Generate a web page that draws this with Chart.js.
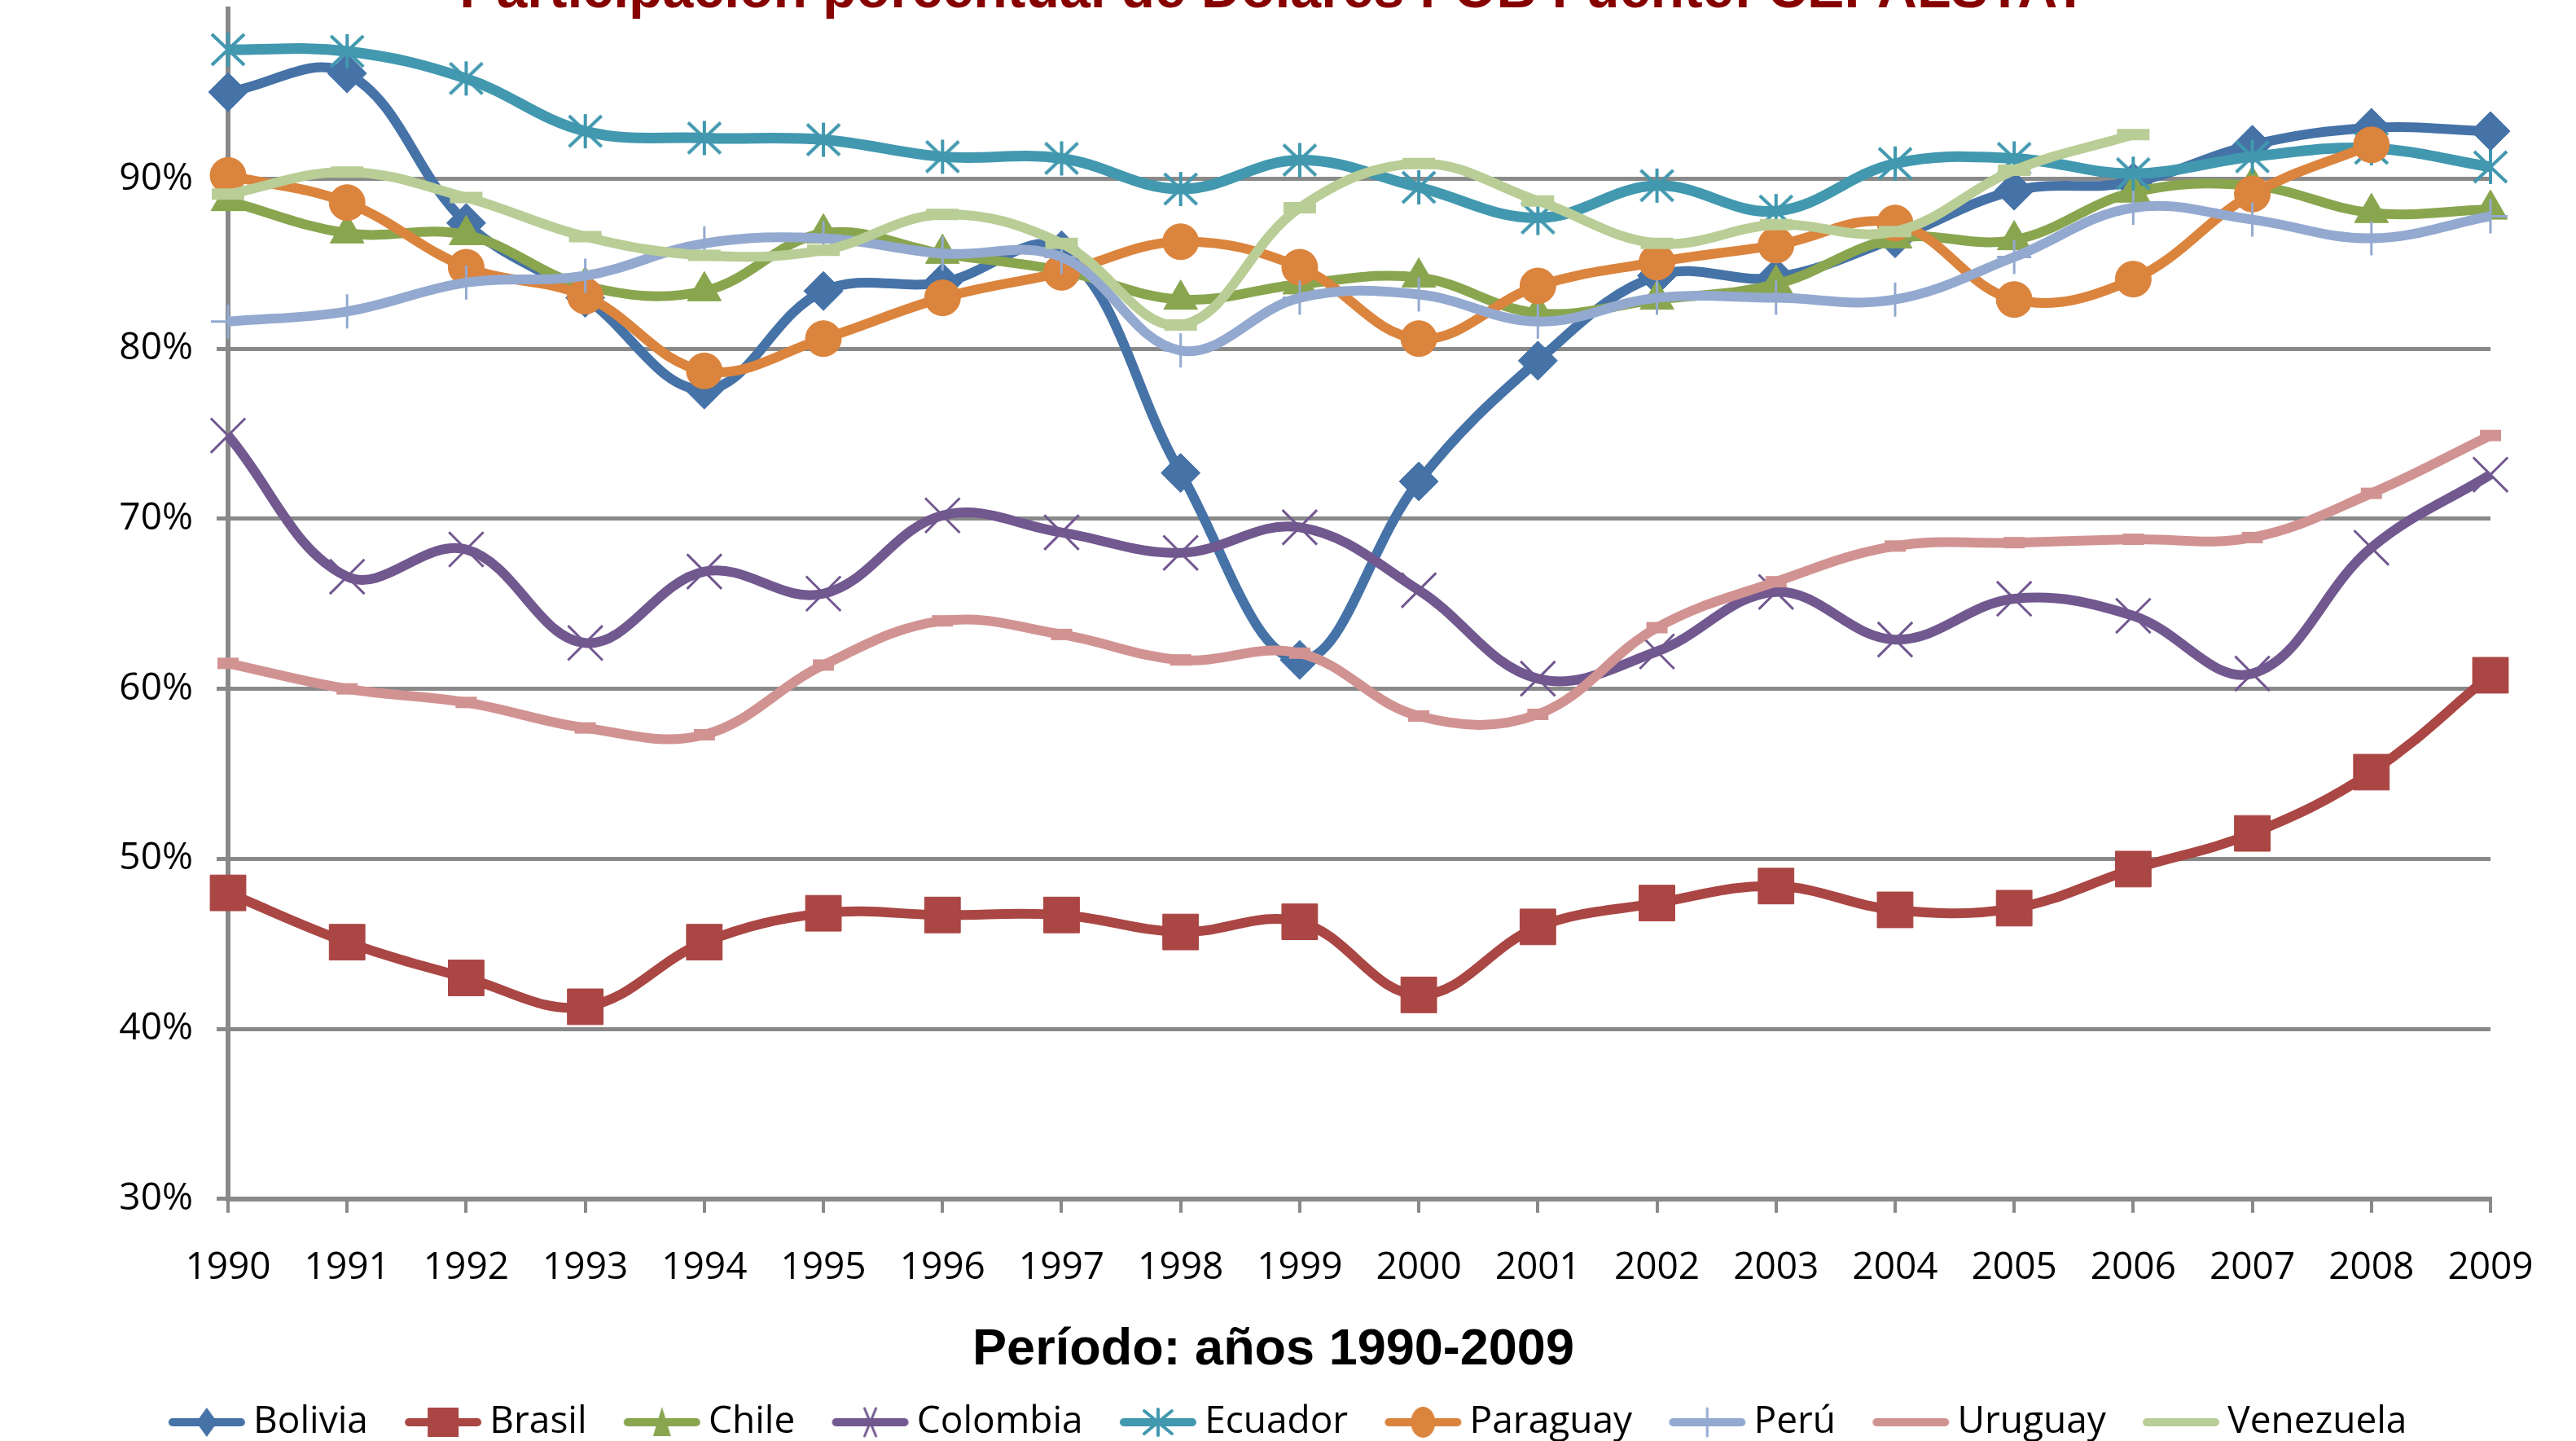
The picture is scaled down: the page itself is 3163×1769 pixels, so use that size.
<!DOCTYPE html>
<html><head><meta charset="utf-8">
<script src="https://cdn.jsdelivr.net/npm/chart.js@4.4.1/dist/chart.umd.min.js"></script>
<style>
html,body{margin:0;padding:0;background:#fff;overflow:hidden;width:3163px;height:1769px}
#wrap{position:absolute;left:0;top:-53px;width:3163px;height:1832px}
</style></head>
<body><div id="wrap"><canvas id="c" width="3163" height="1832"></canvas></div>
<script>
const chartTitle = 'Participación porcentual de Dólares FOB Fuente: CEPALSTAT';
const xTitle = 'Período: años 1990-2009';
const years = ['1990','1991','1992','1993','1994','1995','1996','1997','1998','1999','2000','2001','2002','2003','2004','2005','2006','2007','2008','2009'];
const yTickValues = [30,40,50,60,70,80,90];
const seriesNames = ['Bolivia','Brasil','Chile','Colombia','Ecuador','Paraguay','Perú','Uruguay','Venezuela'];
const bolivia   = [95.1,96.2,87.4,83.0,77.6,83.4,83.9,85.8,72.7,61.7,72.2,79.3,84.3,84.2,86.5,89.3,89.8,92.0,93.0,92.8];
const brasil    = [48.0,45.1,43.0,41.3,45.1,46.8,46.7,46.7,45.7,46.3,42.0,46.0,47.4,48.4,47.0,47.1,49.4,51.5,55.1,60.8];
const chile     = [88.7,86.8,86.7,83.7,83.4,86.8,85.6,84.6,82.9,83.8,84.2,82.1,82.9,83.8,86.5,86.4,89.2,89.6,88.0,88.2];
const colombia  = [74.9,66.6,68.2,62.7,66.9,65.6,70.2,69.2,68.0,69.5,65.8,60.6,62.2,65.7,62.9,65.3,64.3,60.9,68.3,72.6];
const ecuador   = [97.6,97.5,95.9,92.8,92.4,92.3,91.3,91.2,89.4,91.1,89.5,87.7,89.6,88.1,90.9,91.2,90.3,91.3,91.8,90.7];
const paraguay  = [90.2,88.6,84.8,83.1,78.7,80.6,83.0,84.5,86.3,84.8,80.6,83.7,85.1,86.1,87.4,82.9,84.1,89.1,92.0,null];
const peru      = [81.6,82.2,83.9,84.3,86.2,86.5,85.6,85.4,79.9,83.0,83.2,81.6,83.0,83.0,82.9,85.4,88.3,87.6,86.5,87.8];
const uruguay   = [61.5,60.0,59.2,57.7,57.3,61.4,64.0,63.2,61.7,62.1,58.4,58.5,63.6,66.3,68.4,68.6,68.8,68.9,71.5,74.9];
const venezuela = [89.1,90.4,88.9,86.6,85.5,85.8,87.9,86.2,81.4,88.3,90.9,88.7,86.2,87.3,86.9,90.5,92.6,null,null,null];
const seriesData = [bolivia,brasil,chile,colombia,ecuador,paraguay,peru,uruguay,venezuela];
const colors = ['#4572A7','#AA4643','#89A54E','#71588F','#4198AF','#DB843D','#93A9CF','#D19392','#B9CD96'];
const markerKinds = ['diamond','square','triangle','x','star','circle','plus','none','none'];

function drawMarker(ctx, kind, cx, cy, color) {
  ctx.save();
  ctx.fillStyle = color; ctx.strokeStyle = color;
  ctx.beginPath();
  if (kind === 'diamond') {
    ctx.moveTo(cx, cy - 18); ctx.lineTo(cx + 13, cy); ctx.lineTo(cx, cy + 18); ctx.lineTo(cx - 13, cy); ctx.closePath(); ctx.fill();
  } else if (kind === 'square') {
    ctx.rect(cx - 19, cy - 18, 38, 36); ctx.fill();
  } else if (kind === 'triangle') {
    ctx.moveTo(cx, cy - 19); ctx.lineTo(cx + 11, cy + 17); ctx.lineTo(cx - 11, cy + 17); ctx.closePath(); ctx.fill();
  } else if (kind === 'x') {
    ctx.lineWidth = 3;
    ctx.moveTo(cx - 7, cy - 17); ctx.lineTo(cx + 7, cy + 17);
    ctx.moveTo(cx + 7, cy - 17); ctx.lineTo(cx - 7, cy + 17); ctx.stroke();
  } else if (kind === 'star') {
    ctx.lineWidth = 4;
    ctx.moveTo(cx, cy - 16); ctx.lineTo(cx, cy + 16);
    ctx.moveTo(cx - 17, cy - 14); ctx.lineTo(cx + 17, cy + 14);
    ctx.moveTo(cx + 17, cy - 14); ctx.lineTo(cx - 17, cy + 14); ctx.stroke();
  } else if (kind === 'circle') {
    ctx.ellipse(cx, cy, 15, 19, 0, 0, Math.PI * 2); ctx.fill();
  } else if (kind === 'plus') {
    ctx.lineWidth = 3;
    ctx.moveTo(cx, cy - 17); ctx.lineTo(cx, cy + 17); ctx.stroke();
  }
  ctx.restore();
}

// legend icons: line sample with marker (drawn in the right part of the box)
const legendIcons = colors.map((c, i) => {
  const cv = document.createElement('canvas');
  cv.width = 144; cv.height = 50;
  const g = cv.getContext('2d');
  g.strokeStyle = c; g.lineWidth = 10; g.lineCap = 'round';
  g.beginPath(); g.moveTo(54, 25); g.lineTo(138, 25); g.stroke();
  drawMarker(g, markerKinds[i], 96, 25, c);
  return cv;
});

// Ecuador asterisk marker for the data points
const ecuadorMarker = (() => {
  const cv = document.createElement('canvas');
  cv.width = 46; cv.height = 46;
  const g = cv.getContext('2d');
  g.strokeStyle = colors[4]; g.lineWidth = 4;
  g.beginPath();
  g.moveTo(23, 2); g.lineTo(23, 44);
  g.moveTo(3, 4); g.lineTo(43, 42);
  g.moveTo(43, 4); g.lineTo(3, 42);
  g.stroke();
  return cv;
})();

const pointStyles = ['rectRot','rect','triangle','crossRot',ecuadorMarker,'circle','cross','line','line'];
const pointRadii  = [24, 31, 24, 30, 22, 22, 21, 13, 20];
const pointBorders= [1, 1, 1, 3, 1, 1, 3, 14, 14];

const datasets = seriesNames.map((name, i) => ({
  label: name,
  data: seriesData[i],
  borderColor: colors[i],
  backgroundColor: colors[i],
  pointBackgroundColor: colors[i],
  pointBorderColor: colors[i],
  borderWidth: i === 4 ? 13 : 12,
  tension: 0.38,
  pointStyle: pointStyles[i],
  pointRadius: pointRadii[i],
  pointHoverRadius: pointRadii[i],
  pointBorderWidth: pointBorders[i],
  borderJoinStyle: 'round',
  borderCapStyle: 'butt',
  clip: false,
  order: seriesNames.length - i
}));

const gray = '#898989';

new Chart(document.getElementById('c'), {
  type: 'line',
  data: { labels: years, datasets: datasets },
  options: {
    responsive: false,
    animation: false,
    devicePixelRatio: 1,
    layout: { padding: { left: 0, top: 0, bottom: 0, right: 36 } },
    plugins: {
      title: {
        display: true, text: chartTitle, color: '#870000', position: 'top',
        font: { family: 'Liberation Sans, Arial, sans-serif', size: 68, weight: 'bold', lineHeight: 0.6 },
        padding: { top: 23, bottom: 0 }
      },
      subtitle: {
        display: true, text: xTitle, color: '#000', position: 'bottom', weight: 500,
        font: { family: 'Liberation Sans, Arial, sans-serif', size: 63, weight: 'bold', lineHeight: 1.0 },
        padding: { top: 2, bottom: 24 }
      },
      legend: {
        position: 'bottom',
        labels: {
          usePointStyle: true,
          pointStyleWidth: 116.5,
          padding: 10,
          color: '#000',
          font: { family: 'Open Sans, sans-serif', size: 46 },
          generateLabels: (chart) => chart.data.datasets.map((ds, i) => ({
            text: ds.label, pointStyle: legendIcons[i], fillStyle: ds.borderColor,
            strokeStyle: ds.borderColor, lineWidth: 0, hidden: !chart.isDatasetVisible(i),
            datasetIndex: i, fontColor: '#000'
          }))
        }
      },
      tooltip: { enabled: false }
    },
    scales: {
      x: {
        type: 'category',
        offset: false,
        grid: { display: true, drawOnChartArea: false, drawTicks: true, tickLength: 17, color: gray, lineWidth: 4 },
        border: { display: true, color: gray, width: 6 },
        ticks: { color: '#000', padding: 40, maxRotation: 0, autoSkip: false, font: { family: 'Open Sans, sans-serif', size: 46 } }
      },
      y: {
        type: 'linear', min: 30, max: 100,
        afterBuildTicks: (axis) => { axis.ticks = yTickValues.map(v => ({ value: v })); },
        afterFit: (s) => { s.width = 280; },
        grid: { display: true, drawTicks: true, tickLength: 14, color: gray, lineWidth: 5 },
        border: { display: true, color: gray, width: 6 },
        ticks: { color: '#000', padding: 29, font: { family: 'Open Sans, sans-serif', size: 46 }, callback: (v) => v + '%' }
      },
      yRight: {
        type: 'linear', position: 'right', display: true,
        grid: { display: false, drawTicks: false }, border: { display: false },
        ticks: { display: false },
        afterFit: (s) => { s.width = 69; }
      }
    }
  }
});
</script></body></html>
